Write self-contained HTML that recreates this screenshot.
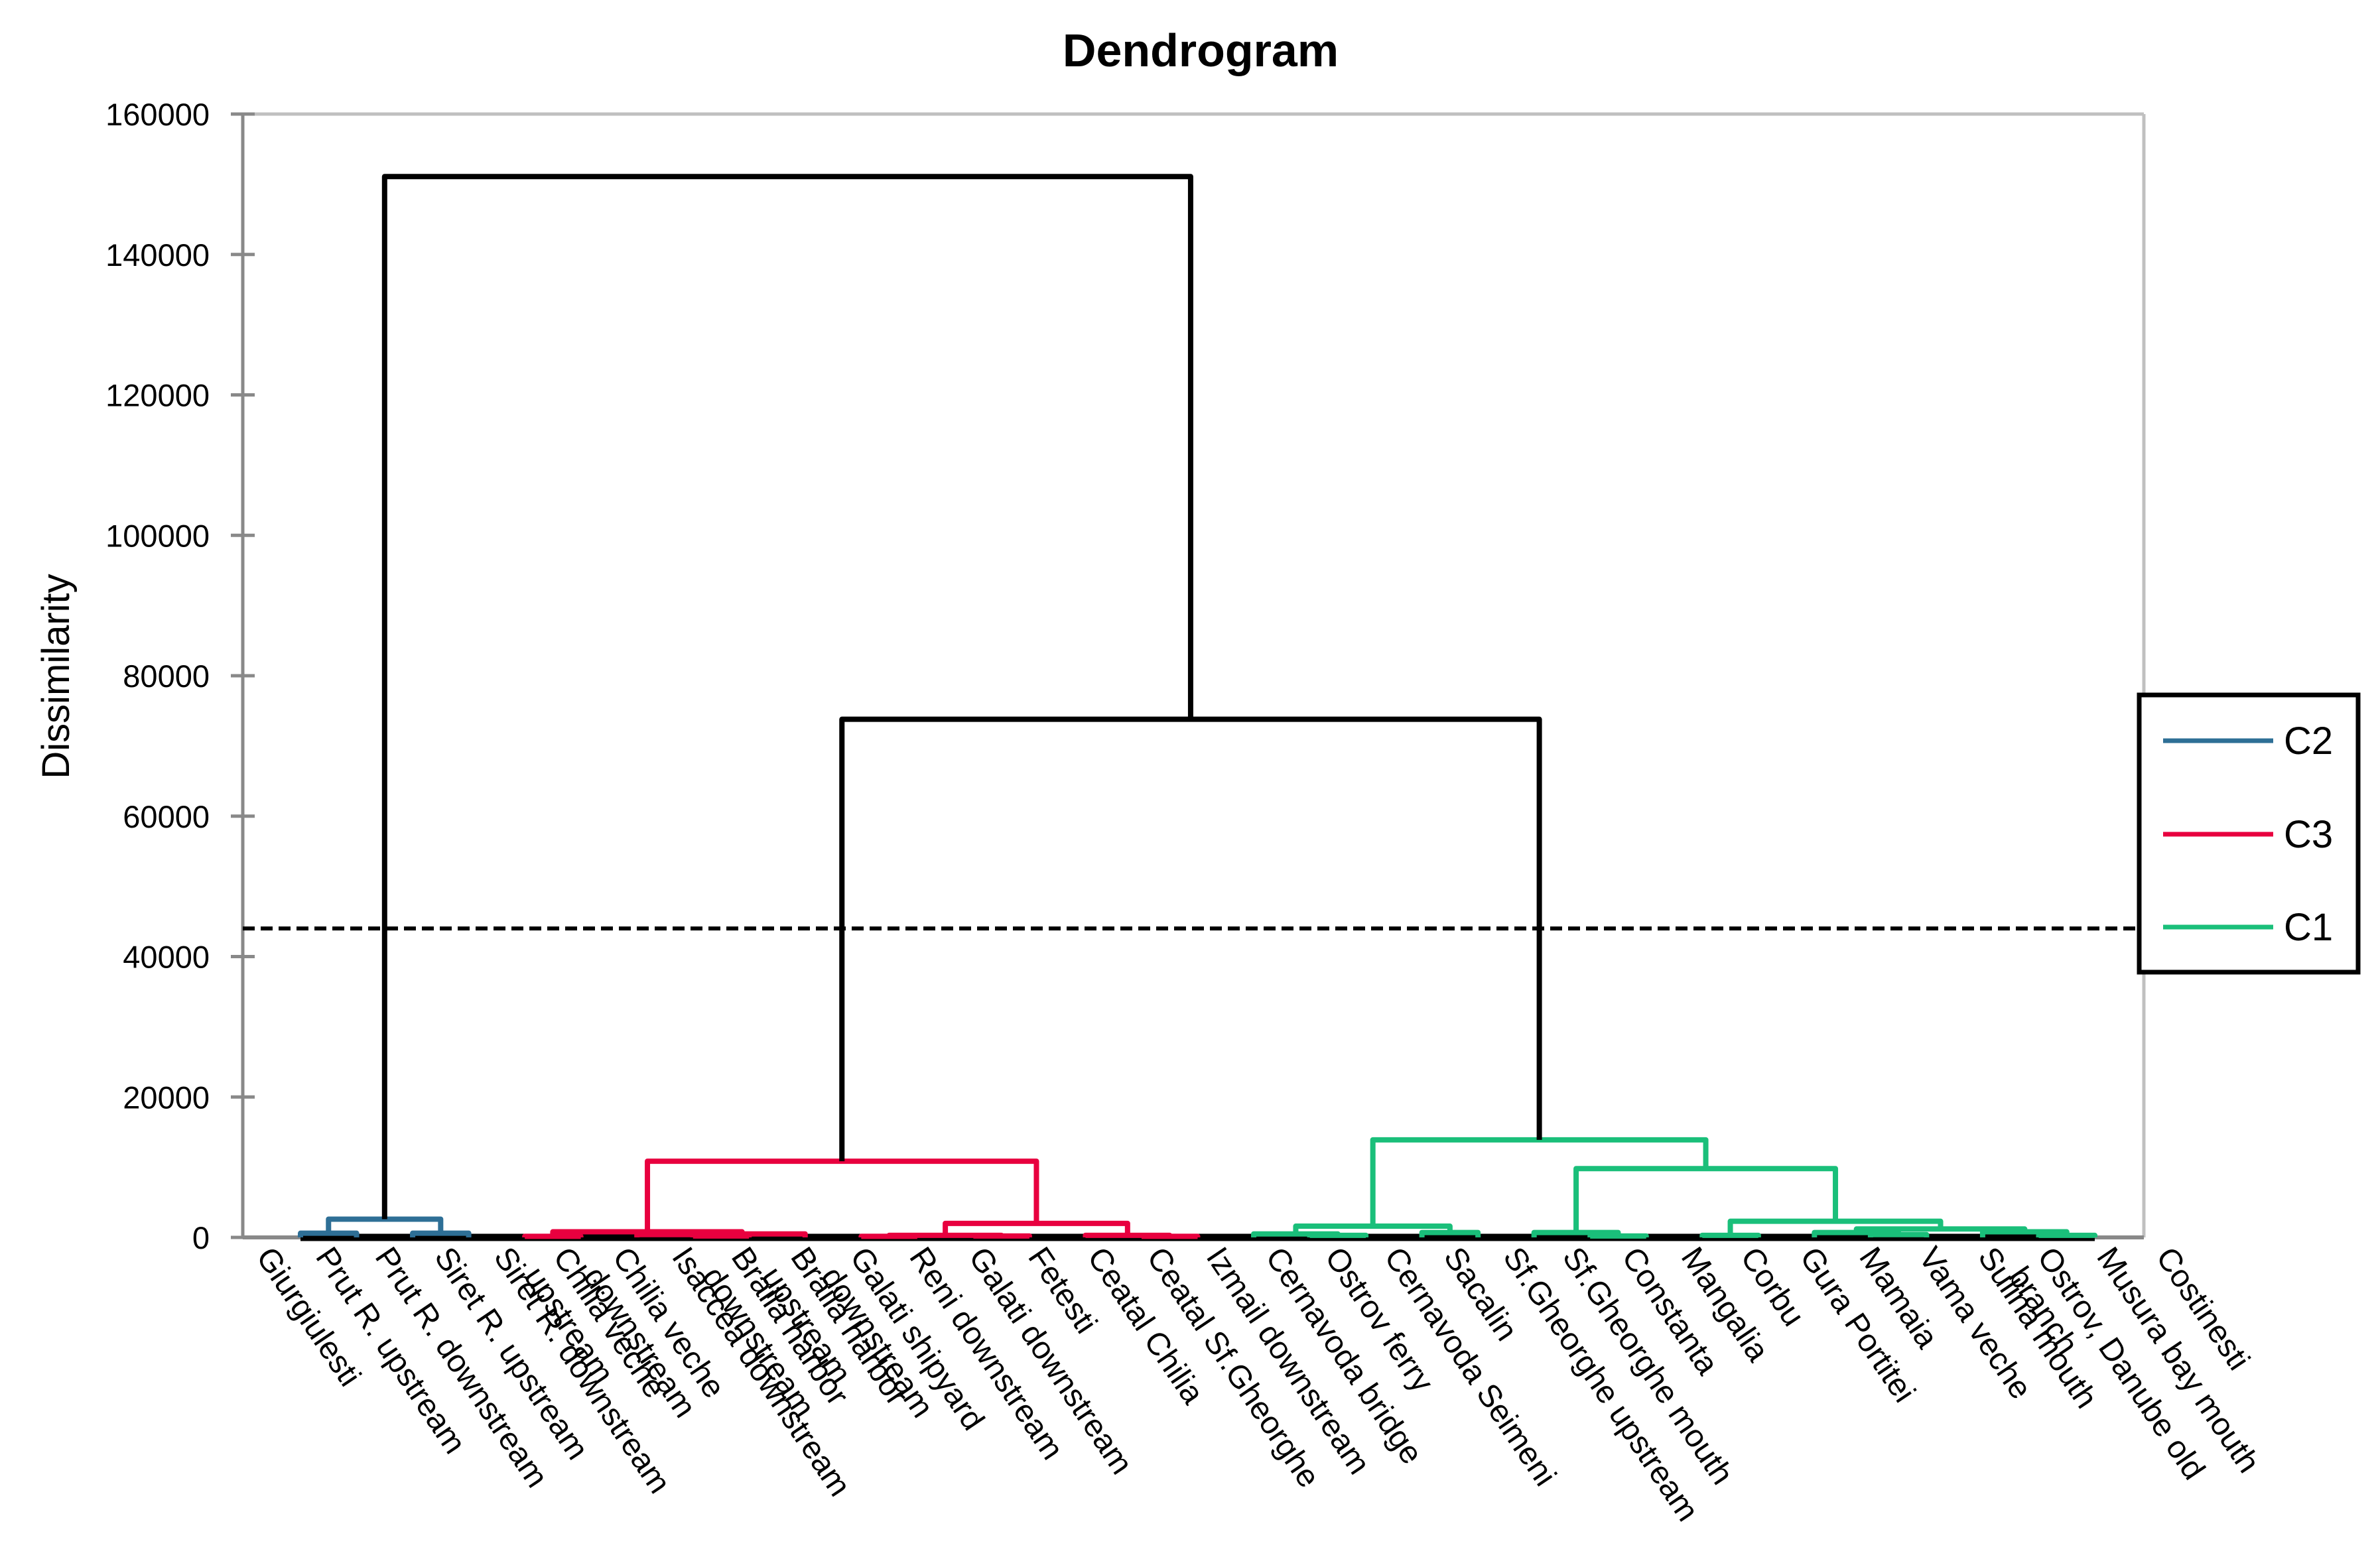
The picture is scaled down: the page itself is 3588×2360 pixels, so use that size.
<!DOCTYPE html>
<html><head><meta charset="utf-8"><style>
html,body{margin:0;padding:0;background:#fff;}
svg{display:block;font-family:"Liberation Sans",Arial,sans-serif;}
</style></head><body>
<svg id="chart" width="3588" height="2360" viewBox="0 0 3588 2360" xmlns="http://www.w3.org/2000/svg">
<rect x="0" y="0" width="3588" height="2360" fill="#fff"/>
<text x="1810" y="100" text-anchor="middle" font-size="70" font-weight="bold">Dendrogram</text>
<text transform="translate(104,1020) rotate(-90)" text-anchor="middle" font-size="58">Dissimilarity</text>
<g id="plot"></g>
<g id="legend">
<rect x="3225" y="1048" width="330" height="418" fill="#fff" stroke="#000" stroke-width="7"/>
<line x1="3261" y1="1117" x2="3427" y2="1117" stroke="#2e6f96" stroke-width="7"/>
<text x="3443" y="1137" font-size="58">C2</text>
<line x1="3261" y1="1258" x2="3427" y2="1258" stroke="#e8003f" stroke-width="7"/>
<text x="3443" y="1278" font-size="58">C3</text>
<line x1="3261" y1="1398" x2="3427" y2="1398" stroke="#1abf7a" stroke-width="7"/>
<text x="3443" y="1418" font-size="58">C1</text>
</g>
</svg>
<script>
const leafLabels = ["Giurgiulesti","Prut R. upstream","Prut R. downstream","Siret R. upstream","Siret R. downstream","Chilia veche upstream","Chilia veche downstream","Isaccea downstream","Braila harbor downstream","Braila harbor upstream","Galati shipyard downstream","Reni downstream","Galati downstream","Fetesti","Ceatal Chilia","Ceatal Sf.Gheorghe","Izmail downstream","Cernavoda bridge","Ostrov ferry","Cernavoda Seimeni","Sacalin","Sf.Gheorghe upstream","Sf.Gheorghe mouth","Constanta","Mangalia","Corbu","Gura Portitei","Mamaia","Vama veche","Sulina mouth","Ostrov, Danube old branch","Musura bay mouth","Costinesti"];
const leafCluster = ["C2","C2","C2","C2","C3","C3","C3","C3","C3","C3","C3","C3","C3","C3","C3","C3","C3","C1","C1","C1","C1","C1","C1","C1","C1","C1","C1","C1","C1","C1","C1","C1","C1"];
const linkLeft   = [0,2,33, 4,7,6,38,36,10,12,41,15,14,43,40, 18,17,20,49,23,22,25,28,27,31,30,56,54,53,51, 47,35];
const linkRight  = [1,3,34, 5,8,37,9,39,11,13,42,16,44,45,46, 19,48,21,50,24,52,26,29,55,32,57,58,59,60,61, 62,63];
const linkHeight = [600,600,2600, 150,200,400,500,800,150,200,300,150,300,2000,10850, 300,500,700,1600,200,700,300,400,700,300,800,1200,2300,9800,13900, 73800,151100];
const yTicks = [0,20000,40000,60000,80000,100000,120000,140000,160000];
const cutHeight = 44000;
const clusterColors = {C2:"#2e6f96",C3:"#e8003f",C1:"#1abf7a"};

const NS="http://www.w3.org/2000/svg";
const plot=document.getElementById('plot');
const L=366,R=3232,T=172,B=1866, yMax=160000;
const leafX0=453, leafX1=3158;
function yScale(v){return B-(v/yMax)*(B-T);}
function xLeaf(i){return leafX0+i*(leafX1-leafX0)/(leafLabels.length-1);}
function mk(tag,attrs,parent){const e=document.createElementNS(NS,tag);for(const k in attrs)e.setAttribute(k,attrs[k]);(parent||plot).appendChild(e);return e;}

let e;
e=mk('line',{x1:L,y1:T,x2:R,y2:T,stroke:'#c0c0c0','stroke-width':5});


e=mk('line',{x1:R,y1:T,x2:R,y2:B,stroke:'#c0c0c0','stroke-width':5});


e=mk('line',{x1:L,y1:B,x2:R,y2:B,stroke:'#898989','stroke-width':6});


e=mk('line',{x1:L,y1:T,x2:L,y2:B,stroke:'#898989','stroke-width':5});


yTicks.forEach(v=>{
  const y=yScale(v);
  const t=mk('line',{x1:L-18,y1:y,x2:L+18,y2:y,stroke:'#898989','stroke-width':5});
  
  
  const tx=mk('text',{x:L-50,y:y+17,'text-anchor':'end','font-size':47});
  tx.textContent=String(v);
  
  
});

e=mk('line',{x1:xLeaf(0),y1:B,x2:xLeaf(leafLabels.length-1),y2:B,stroke:'#000','stroke-width':11});



const n=leafLabels.length;
const nodeX=[],nodeH=[],nodeC=[];
for(let i=0;i<n;i++){nodeX[i]=xLeaf(i);nodeH[i]=0;nodeC[i]=leafCluster[i];}
for(let k=0;k<linkLeft.length;k++){
  const a=linkLeft[k],b=linkRight[k],h=linkHeight[k],id=n+k;
  const col=(nodeC[a]&&nodeC[a]===nodeC[b])?nodeC[a]:null;
  const stroke=col?clusterColors[col]:'#000';
  const yh=yScale(h);
  const p=mk('path',{d:`M${nodeX[a]},${yScale(nodeH[a])} V${yh} H${nodeX[b]} V${yScale(nodeH[b])}`,fill:'none',stroke:stroke,'stroke-width':8,'stroke-linejoin':'round'});
  
  
  nodeX[id]=(nodeX[a]+nodeX[b])/2;nodeH[id]=h;nodeC[id]=col;
}

e=mk('line',{x1:L,y1:yScale(cutHeight),x2:3500,y2:yScale(cutHeight),stroke:'#000','stroke-width':6,'stroke-dasharray':'18,9'});



function wrap(s){
  if(s.length<=20) return [s];
  const w=s.split(' ');let a='';let i=0;
  while(i<w.length && (a+' '+w[i]).trim().length<=18){a=(a+' '+w[i]).trim();i++;}
  if(!a){a=w[0];i=1;}
  return [a,w.slice(i).join(' ')];
}
leafLabels.forEach((lab,i)=>{
  const x=385+i*89.5, y=1895;
  const t=mk('text',{transform:`translate(${x},${y}) rotate(56)`,'font-size':48});
  
  
  wrap(lab).forEach((ln,j)=>{
    const s=mk('tspan',{x:0,dy:j?'1.1em':'0'},t);
    s.textContent=ln;
  });
});
</script>
</body></html>
